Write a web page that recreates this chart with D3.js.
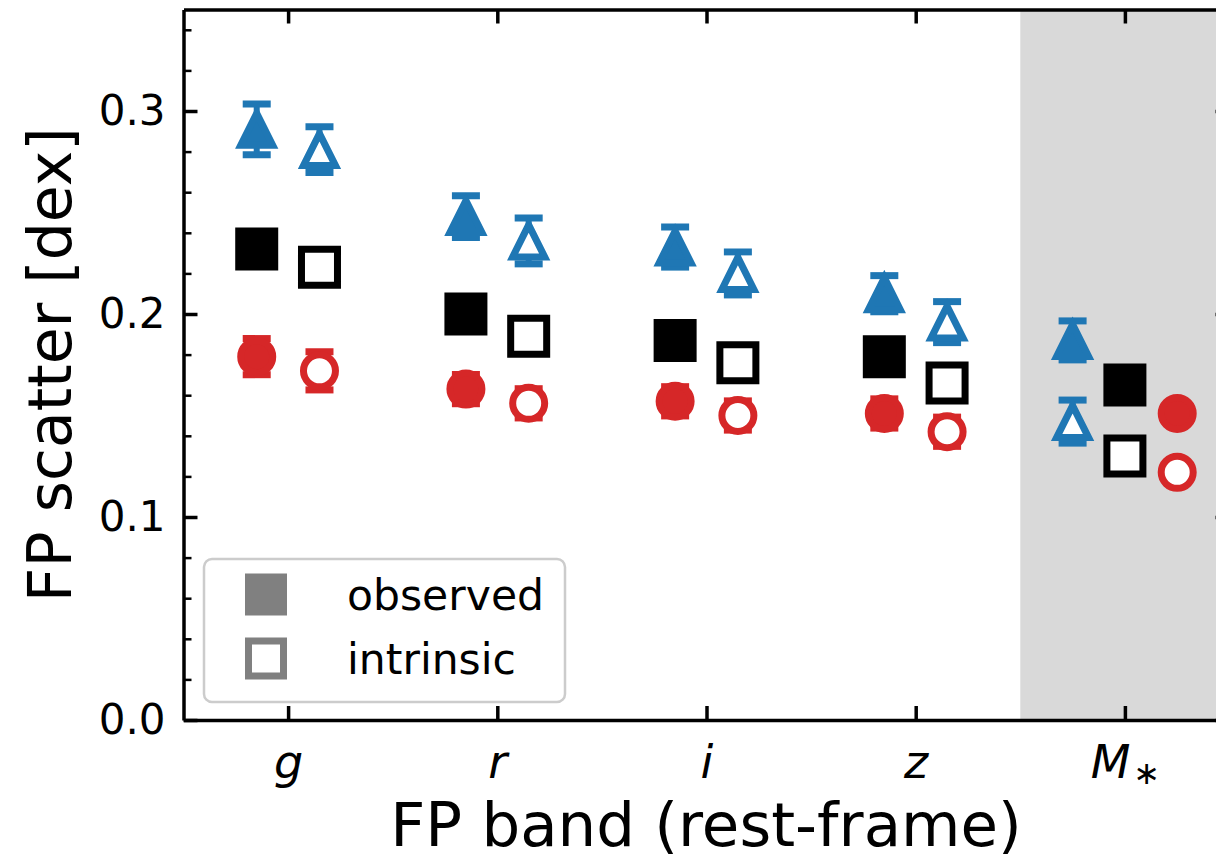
<!DOCTYPE html>
<html>
<head>
<meta charset="utf-8">
<script src="https://cdn.jsdelivr.net/npm/d3@7/dist/d3.min.js"></script>
<style>
  html, body { margin: 0; padding: 0; background: #ffffff; }
  svg { display: block; font-family: "DejaVu Sans", sans-serif; }
</style>
</head>
<body>
<svg id="chart" width="1216" height="860"></svg>
<script>
// FP bands (rest-frame) plus the stellar-mass plane
const bands = ["g", "r", "i", "z", "M*"];

// Blue triangles: observed / intrinsic scatter with uncertainties
const triObs     = [0.291, 0.248, 0.233, 0.210, 0.187];
const triObsErr  = [0.0125, 0.0103, 0.0099, 0.0089, 0.0096];
const triInt     = [0.281, 0.236, 0.220, 0.196, 0.147];
const triIntErr  = [0.0113, 0.0113, 0.0106, 0.0101, 0.0106];

// Black squares: observed / intrinsic scatter
const sqObs = [0.232, 0.200, 0.187, 0.179, 0.165];
const sqInt = [0.223, 0.189, 0.176, 0.166, 0.130];

// Red circles: observed / intrinsic scatter with uncertainties
const circObs    = [0.179, 0.163, 0.157, 0.151, 0.151];
const circObsErr = [0.0089, 0.0072, 0.0072, 0.0072, 0];
const circInt    = [0.172, 0.156, 0.150, 0.142, 0.122];
const circIntErr = [0.0094, 0.0072, 0.0072, 0.0072, 0];

const yMajorTicks = [0.0, 0.1, 0.2, 0.3];
const yMinorTicks = d3.range(0, 0.3501, 0.02).filter(v => yMajorTicks.every(m => Math.abs(m - v) > 1e-6));
const legendLabels = ["observed", "intrinsic"];

const BLUE = "#1f77b4", RED = "#d62728", BLACK = "#000000", GRAY = "#808080";

const svg = d3.select("#chart");
const axLeft = 183.5, axRight = 1229.5, axTop = 9.5, axBottom = 720;

const x = d3.scaleLinear().domain([-0.5, 4.5]).range([axLeft, axRight]);
const y = d3.scaleLinear().domain([0, 0.35]).range([axBottom, axTop]);

// clip to the axes box
svg.append("defs").append("clipPath").attr("id", "plotClip")
  .append("rect").attr("x", axLeft).attr("y", axTop).attr("width", axRight - axLeft).attr("height", axBottom - axTop);

const plot = svg.append("g").attr("clip-path", "url(#plotClip)");

// shaded column for the stellar-mass plane
plot.append("rect")
  .attr("x", x(3.5)).attr("y", y(0.35))
  .attr("width", x(4.5) - x(3.5)).attr("height", y(0) - y(0.35))
  .attr("fill", "#d9d9d9");

// marker shapes (matplotlib-like)
const triShape = { draw(ctx, size) { const h = Math.sqrt(size) / 2; ctx.moveTo(0, -h); ctx.lineTo(-h, h); ctx.lineTo(h, h); ctx.closePath(); } };
const sqShape  = { draw(ctx, size) { const s = Math.sqrt(size) / 2; ctx.rect(-s, -s, 2 * s, 2 * s); } };
const circShape = { draw(ctx, size) { const r = Math.sqrt(size) / 2; ctx.moveTo(r, 0); ctx.arc(0, 0, r, 0, 2 * Math.PI); } };

const shapes = { tri: { type: triShape, size: 32 * 32 }, sq: { type: sqShape, size: 36 * 36 }, circ: { type: circShape, size: 32 * 32 } };

// horizontal placement within each band
function shift(bandIdx, kind, observed) {
  if (bandIdx === 4) return kind === "tri" ? -0.25 : kind === "sq" ? 0 : 0.25;
  return observed ? -0.15 : 0.15;
}

const series = [
  { kind: "tri",  color: BLUE,  filled: true,  vals: triObs,  errs: triObsErr },
  { kind: "tri",  color: BLUE,  filled: false, vals: triInt,  errs: triIntErr },
  { kind: "sq",   color: BLACK, filled: true,  vals: sqObs,   errs: null },
  { kind: "sq",   color: BLACK, filled: false, vals: sqInt,   errs: null },
  { kind: "circ", color: RED,   filled: true,  vals: circObs, errs: circObsErr },
  { kind: "circ", color: RED,   filled: false, vals: circInt, errs: circIntErr }
];

const EDGE = 7, CAP = 14;
series.forEach(s => {
  const pts = s.vals.map((v, i) => ({ i, v, e: s.errs ? s.errs[i] : 0, cx: x(i + shift(i, s.kind, s.filled)) }));
  const g = plot.append("g");
  const withErr = pts.filter(p => p.e > 0);
  g.selectAll("line.err").data(withErr).join("line")
    .attr("x1", p => p.cx).attr("x2", p => p.cx)
    .attr("y1", p => y(p.v - p.e)).attr("y2", p => y(p.v + p.e))
    .attr("stroke", s.color).attr("stroke-width", 6);
  [-1, 1].forEach(sign => {
    g.append("g").selectAll("line").data(withErr).join("line")
      .attr("x1", p => p.cx - CAP).attr("x2", p => p.cx + CAP)
      .attr("y1", p => y(p.v + sign * p.e)).attr("y2", p => y(p.v + sign * p.e))
      .attr("stroke", s.color).attr("stroke-width", 7);
  });
  const sym = d3.symbol().type(shapes[s.kind].type).size(shapes[s.kind].size);
  g.append("g").selectAll("path").data(pts).join("path")
    .attr("d", sym)
    .attr("transform", p => `translate(${p.cx},${y(p.v)})`)
    .attr("fill", s.filled ? s.color : "#ffffff")
    .attr("stroke", s.color).attr("stroke-width", EDGE)
    .attr("stroke-linejoin", "miter").attr("stroke-miterlimit", 10);
});

// axes with inward ticks
function styleAxis(g, width) {
  g.select(".domain").attr("stroke", "#000").attr("stroke-width", 3.5);
  g.selectAll(".tick line").attr("stroke", "#000").attr("stroke-width", width);
}
const axesLayer = svg.append("g");

const yLeftAxis = axesLayer.append("g").attr("transform", `translate(${axLeft},0)`)
  .call(d3.axisLeft(y).tickValues(yMajorTicks).tickFormat(d3.format(".1f")).tickSizeInner(-14).tickSizeOuter(0).tickPadding(18));
styleAxis(yLeftAxis, 3.5);
yLeftAxis.selectAll(".tick text").attr("font-size", 42).attr("fill", "#000").attr("font-family", "DejaVu Sans");

axesLayer.append("g").attr("transform", `translate(${axLeft},0)`)
  .call(d3.axisLeft(y).tickValues(yMinorTicks).tickFormat("").tickSizeInner(-8).tickSizeOuter(0))
  .call(g => { g.select(".domain").remove(); g.selectAll(".tick line").attr("stroke", "#000").attr("stroke-width", 2.5); });

const yRightAxis = axesLayer.append("g").attr("transform", `translate(${axRight},0)`)
  .call(d3.axisRight(y).tickValues(yMajorTicks).tickFormat("").tickSizeInner(-14).tickSizeOuter(0));
styleAxis(yRightAxis, 3.5);
axesLayer.append("g").attr("transform", `translate(${axRight},0)`)
  .call(d3.axisRight(y).tickValues(yMinorTicks).tickFormat("").tickSizeInner(-8).tickSizeOuter(0))
  .call(g => { g.select(".domain").remove(); g.selectAll(".tick line").attr("stroke", "#000").attr("stroke-width", 2.5); });

const xTopAxis = axesLayer.append("g").attr("transform", `translate(0,${axTop})`)
  .call(d3.axisTop(x).tickValues(d3.range(bands.length)).tickFormat("").tickSizeInner(-14).tickSizeOuter(0));
styleAxis(xTopAxis, 3.5);

const xBottomAxis = axesLayer.append("g").attr("transform", `translate(0,${axBottom})`)
  .call(d3.axisBottom(x).tickValues(d3.range(bands.length)).tickFormat("").tickSizeInner(-14).tickSizeOuter(0));
styleAxis(xBottomAxis, 3.5);

// italic band labels, with a subscript asterisk for M*
xBottomAxis.selectAll(".tick").each(function (d) {
  const t = d3.select(this).append("text")
    .attr("y", 58).attr("text-anchor", "middle")
    .attr("font-size", 46).attr("font-style", "italic").attr("fill", "#000")
    .attr("font-family", "DejaVu Sans");
  const label = bands[d];
  if (label === "M*") {
    t.append("tspan").text("M");
    t.append("tspan").attr("font-style", "normal").attr("font-size", 32).attr("dx", 3).attr("dy", 6).text("\u2217");
  } else {
    t.text(label);
  }
});

// axis titles
svg.append("text")
  .attr("x", 706).attr("y", 846)
  .attr("text-anchor", "middle").attr("font-size", 61).attr("fill", "#000")
  .text("FP band (rest-frame)");

svg.append("text")
  .attr("transform", `translate(71,${(axTop + axBottom) / 2}) rotate(-90)`)
  .attr("text-anchor", "middle").attr("font-size", 60).attr("fill", "#000")
  .text("FP scatter [dex]");

// legend
const lg = svg.append("g");
lg.append("rect")
  .attr("x", 204).attr("y", 559).attr("width", 361).attr("height", 143).attr("rx", 8)
  .attr("fill", "#ffffff").attr("fill-opacity", 0.8)
  .attr("stroke", "#cccccc").attr("stroke-width", 2.5);
const legSym = d3.symbol().type(sqShape).size(35 * 35);
legendLabels.forEach((lab, k) => {
  const cy = 594.5 + k * 64;
  lg.append("path").attr("d", legSym)
    .attr("transform", `translate(266,${cy})`)
    .attr("fill", k === 0 ? GRAY : "#ffffff")
    .attr("stroke", GRAY).attr("stroke-width", EDGE);
  lg.append("text").attr("x", 347).attr("y", cy + 15)
    .attr("font-size", 42.5).attr("fill", "#000").text(lab);
});
</script>
</body>
</html>
